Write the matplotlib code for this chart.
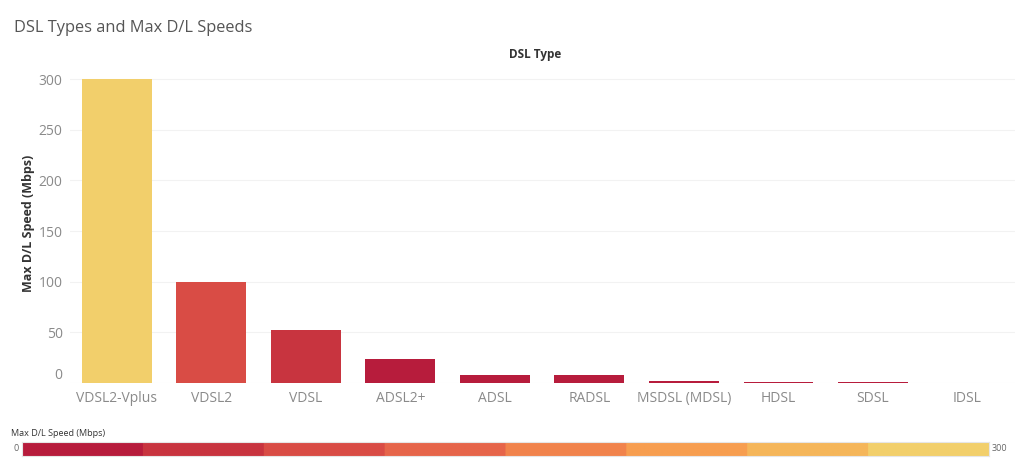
import matplotlib.pyplot as plt
import numpy as np
from matplotlib.colors import ListedColormap, BoundaryNorm

# data
dsl_types = ['VDSL2-Vplus', 'VDSL2', 'VDSL', 'ADSL2+', 'ADSL', 'RADSL',
             'MSDSL (MDSL)', 'HDSL', 'SDSL', 'IDSL']
max_speed = [300, 100, 52, 24, 8, 8, 2.3, 1.5, 1.5, 0.144]
yticks = [0, 50, 100, 150, 200, 250, 300]

# stepped palette (8 steps, 0 -> 300)
steps = ['#B71C3C', '#C8343F', '#D94C45', '#E6654A', '#F1834C',
         '#F79E50', '#F5B65A', '#F2CF6B']
cmap = ListedColormap(steps)
norm = BoundaryNorm(np.linspace(0, 300, 9), cmap.N)

plt.rcParams['font.family'] = ['Open Sans', 'DejaVu Sans']

fig = plt.figure(figsize=(10.24, 4.7), dpi=100)
ax = fig.add_axes([0.068, 0.185, 0.923, 0.679])

x = np.arange(len(dsl_types))
ax.bar(x, max_speed, width=0.74, color=cmap(norm(np.minimum(max_speed, 299.9))))

ax.set_xlim(-0.5, len(dsl_types) - 0.5)
ax.set_ylim(0, 315)
ax.set_xticks(x)
ax.set_xticklabels(dsl_types, fontsize=10, color='#8a8a8a')
ax.set_yticks(yticks)
ax.set_yticklabels([str(t) for t in yticks], fontsize=10, color='#8a8a8a')
ax.get_yticklabels()[0].set_va('bottom')
ax.tick_params(length=0, pad=6)
ax.tick_params(axis='y', pad=5)
ax.grid(axis='y', color='#f2f2f2', linewidth=0.8)
ax.set_axisbelow(True)
for s in ax.spines.values():
    s.set_visible(False)
ax.set_ylabel('Max D/L Speed (Mbps)', fontsize=9, fontweight='bold', color='#333333', labelpad=2.5)

fig.text(0.014, 0.94, 'DSL Types and Max D/L Speeds', fontsize=11.8, color='#555555', va='center')
fig.text(0.523, 0.883, 'DSL Type', fontsize=8.5, fontweight='bold', color='#333333', ha='center', va='center')

# legend colour bar at the bottom
cax = fig.add_axes([0.0215, 0.03, 0.944, 0.03])
cax.imshow(np.linspace(0, 300, 800)[None, :], aspect='auto', cmap=cmap, norm=norm,
           extent=[0, 300, 0, 1])
cax.set_xticks([])
cax.set_yticks([])
for s in cax.spines.values():
    s.set_color('#e6e6e6')
fig.text(0.011, 0.077, 'Max D/L Speed (Mbps)', fontsize=6.5, color='#333333', va='center')
fig.text(0.016, 0.045, '0', fontsize=6.5, color='#666666', ha='center', va='center')
fig.text(0.968, 0.045, '300', fontsize=6.5, color='#666666', ha='left', va='center')

fig.savefig('out.png', dpi=100)
